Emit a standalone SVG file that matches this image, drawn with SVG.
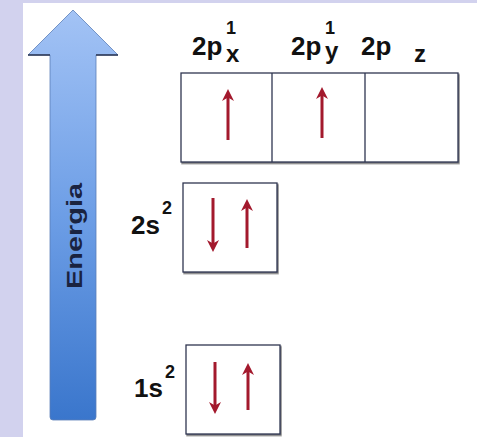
<svg xmlns="http://www.w3.org/2000/svg" width="477" height="437" viewBox="0 0 477 437">
<defs>
<linearGradient id="eg" x1="0" y1="0" x2="0" y2="1">
<stop offset="0" stop-color="#a3c3f5"/>
<stop offset="0.5" stop-color="#6d9ee6"/>
<stop offset="1" stop-color="#3a76cc"/>
</linearGradient>
<marker id="ah" viewBox="0 0 10 10" refX="5" refY="5" markerWidth="4" markerHeight="4" orient="auto-start-reverse" markerUnits="strokeWidth">
<path d="M0,0 L10,5 L0,10 L3,5 Z" fill="#a3192d"/>
</marker>
<filter id="sh" x="-10%" y="-10%" width="130%" height="130%">
<feDropShadow dx="1" dy="1.5" stdDeviation="0.6" flood-color="#222" flood-opacity="0.6"/>
</filter>
</defs>
<style>
.lbl{font-family:"Liberation Sans",Arial,sans-serif;font-weight:bold;fill:#111;}
.main{font-size:26px;}
.sup{font-size:18px;}
.sub{font-size:24px;}
.box{fill:#fff;stroke:#2e3550;stroke-width:1.3;}
.e{stroke:#a3192d;stroke-width:3;fill:none;marker-end:url(#ah);}
</style>
<rect x="0" y="0" width="477" height="437" fill="#ffffff"/>
<rect x="0" y="0" width="23" height="437" fill="#d2d2ee"/>
<rect x="0" y="0" width="477" height="3" fill="#d2d2ee"/>

<g id="energy-axis">
<path d="M73,10 L118,55 L96,55 L96,417 Q96,420 93,420 L53,420 Q50,420 50,417 L50,55 L28,55 Z" fill="url(#eg)" stroke="#5c7fb8" stroke-width="0.8"/>
<path d="M28,55 L50,55 M96,55 L118,55" stroke="#2a3550" stroke-width="1.5"/>
<text class="lbl" transform="translate(82,236) rotate(-90)" text-anchor="middle" font-size="22" textLength="106" lengthAdjust="spacingAndGlyphs" style="fill:#1a2340">Energia</text>
</g>

<g id="orbital-2p">
<rect class="box" x="181" y="73" width="277" height="89" filter="url(#sh)"/>
<line x1="272" y1="73" x2="272" y2="162" stroke="#2e3550" stroke-width="1.3"/>
<line x1="365" y1="73" x2="365" y2="162" stroke="#2e3550" stroke-width="1.3"/>
<text class="lbl main" x="192" y="55">2p</text>
<text class="lbl sup" x="226" y="34">1</text>
<text class="lbl sub" x="226" y="62">x</text>
<text class="lbl main" x="291" y="55">2p</text>
<text class="lbl sup" x="325" y="34">1</text>
<text class="lbl sub" x="325" y="59">y</text>
<text class="lbl main" x="361" y="55">2p</text>
<text class="lbl sub" x="414" y="62">z</text>
</g>

<g id="orbital-2s">
<rect class="box" x="183" y="183" width="94" height="89" filter="url(#sh)"/>
<text class="lbl main" x="131" y="234">2s</text>
<text class="lbl" x="162" y="214" font-size="18">2</text>
</g>

<g id="orbital-1s">
<rect class="box" x="186" y="345" width="94" height="89" filter="url(#sh)"/>
<text class="lbl main" x="134" y="397">1s</text>
<text class="lbl" x="165" y="378" font-size="18">2</text>
</g>

<g id="electrons">
<line class="e" x1="228" y1="140" x2="228" y2="95"/>
<line class="e" x1="322" y1="138" x2="322" y2="93"/>
<line class="e" x1="213" y1="198" x2="213" y2="246"/>
<line class="e" x1="247" y1="248" x2="247" y2="205"/>
<line class="e" x1="215" y1="362" x2="215" y2="408"/>
<line class="e" x1="248" y1="410" x2="248" y2="369"/>
</g>
</svg>
